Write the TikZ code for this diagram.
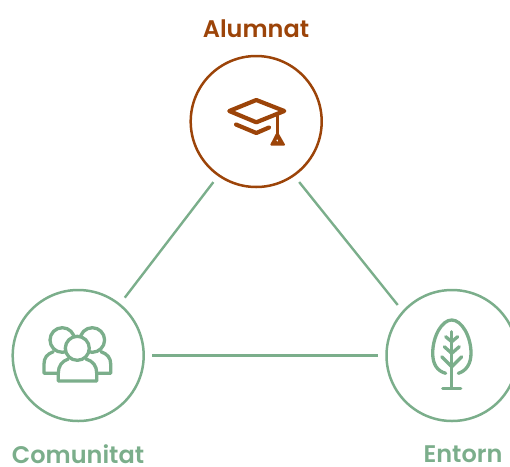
\documentclass[tikz,border=0pt]{standalone}
\usepackage{fontspec}
\setmainfont{Poppins Medium}[BoldFont={Poppins SemiBold}]
\definecolor{brn}{HTML}{9C4409}
\definecolor{grn}{HTML}{7BAE8B}
\tikzset{
  x=1pt,y=-1pt,
  hub/.style={circle,draw=#1,line width=2.5pt,minimum size=131pt,inner sep=0pt},
  lbl/.style={text=#1,font=\fontsize{24}{28}\selectfont\bfseries,inner sep=0pt,anchor=base},
  link/.style={draw=grn,line width=2.4pt,shorten >=7.5pt,shorten <=7.5pt},
  icon/.style={draw=#1,line width=3.3pt,line cap=round,line join=round},
}
\begin{document}
\begin{tikzpicture}
\useasboundingbox (0,0) rectangle (510,466);
\node[hub=brn] (alumnat) at (256.2,121.5) {};
\node[hub=grn] (comunitat) at (78.2,355.5) {};
\node[hub=grn] (entorn) at (452,355.5) {};
\node[lbl=brn] (talumnat) at (256,37.3) {Alumnat};
\node[lbl=grn] (tcomunitat) at (78,463.5) {Comunitat};
\node[lbl=grn] (tentorn) at (463,462) {Entorn};
\draw[link] (alumnat.235.4) -- (comunitat.51.6);
\draw[link] (alumnat.305) -- (entorn.138.3);
\draw[link] (comunitat) -- (entorn);
% cap
\draw[icon=brn,line width=4.2pt] (256.3,100) -- (229.3,111) -- (256.3,122.3) -- (284.3,111) -- cycle;
\draw[icon=brn,line width=4.2pt] (236,124.5) -- (256.3,133) -- (269,127.5);
\draw[icon=brn,line width=3.2pt] (277.3,115) -- (277.3,135);
\fill[brn,even odd rule,rounded corners=1.2pt] (277.3,131) -- (269.8,145.5) -- (285.6,145.5) -- cycle (277.3,138.5) -- (275.8,141.5) -- (278.8,141.5) -- cycle;
% people
\begin{scope}[icon=grn]
\draw (53.3,351.7) .. controls (47,354) and (44,358) .. (44,364) -- (44,373.3) -- (58.3,373.3);
\draw (101,351.7) .. controls (107.5,354) and (110.7,358) .. (110.7,364) -- (110.7,373.3) -- (96.7,373.3);
\filldraw[fill=white] (62.3,340) circle (12.3);
\filldraw[fill=white] (92.3,340) circle (12.3);
\filldraw[fill=white] (68.3,359) .. controls (62,361) and (58.3,366) .. (58.3,373) -- (58.3,381) -- (96.7,381) -- (96.7,373) .. controls (96.7,366) and (93,361) .. (86,359);
\filldraw[fill=white] (77.3,348.3) circle (12);
\end{scope}
% tree
\begin{scope}[icon=grn]
\draw (445.7,373.3) .. controls (437,371) and (432.7,364) .. (432.7,353.3) .. controls (432.7,336) and (442,320) .. (451.7,320) .. controls (461.5,320) and (471,336) .. (471,353.3) .. controls (471,364) and (466,371) .. (458.3,373.3);
\draw (451.7,331.7) -- (451.7,388.3);
\draw (442.7,388.3) -- (460.7,388.3);
\draw (445.7,336.7) -- (451.7,341.7) -- (457.7,336.7);
\draw (444.3,346.7) -- (451.7,353.3) -- (459.3,346.7);
\draw (441.7,356.7) -- (451.7,366.7) -- (461.7,356.7);
\end{scope}
\end{tikzpicture}
\end{document}
